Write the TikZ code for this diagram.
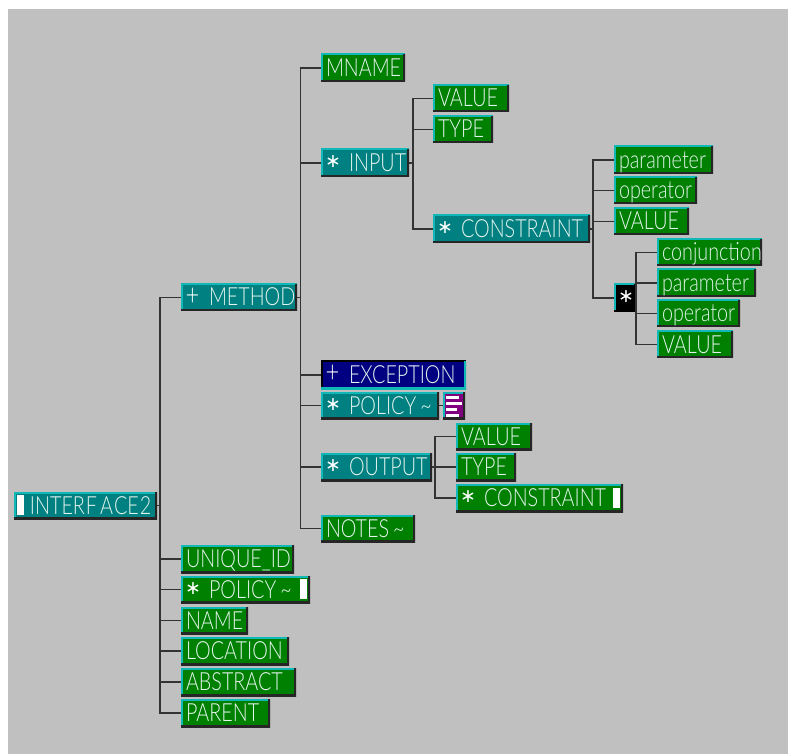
\documentclass[tikz,border=0pt]{standalone}
\usepackage{fontspec}
\setmainfont{Lato}[UprightFont=* Light,FakeStretch=0.79]
\newfontfamily\symf{DejaVu Sans}
\definecolor{tealb}{HTML}{008080}
\definecolor{greenb}{HTML}{008000}
\definecolor{navyb}{HTML}{000080}
\definecolor{purpb}{HTML}{800080}
\definecolor{edgec}{HTML}{10B8B8}
\definecolor{inkc}{HTML}{E4F4EE}
\definecolor{panel}{HTML}{C0C0C0}
\newlength{\boxw}
\newcommand{\nd}[7]{%
  \pgfmathsetlength{\boxw}{(#4-#3)*1pt}%
  \node[#2,minimum height={(#6-#5)*1pt}] (#1) at ({(#3+#4)/2},{(#5+#6)/2})
   {\makebox[\boxw][l]{#7}};}
\newcommand{\tx}[1]{\hspace{5pt}#1}
\newcommand{\astr}{\hspace{-0.5pt}\raisebox{4pt}{\textcolor{white}{\symf\fontsize{19}{19}\selectfont ∗}}}
\newcommand{\plussym}{\raisebox{0.5pt}{\textcolor{white}{\fontsize{30}{30}\selectfont +}}}
\newcommand{\sy}[2]{\hspace{4.5pt}\makebox[23.5pt][l]{#1}#2}
\newcommand{\barr}{\textcolor{white}{\rule[-1pt]{6.5pt}{20pt}}}
\newcommand{\tld}{\hspace{4pt}\textasciitilde}
\tikzset{
 base/.style={inner sep=0pt,outer sep=0pt,text=inkc,text height=17pt,text depth=0pt,
   font=\fontsize{25}{25}\selectfont},
 bevel/.style n args={3}{base,fill=#1,
   path picture={
     \draw[line width=3pt,#2] (path picture bounding box.south west) -- (path picture bounding box.north west) -- (path picture bounding box.north east);
     \draw[line width=3.4pt,#3] (path picture bounding box.south west) -- (path picture bounding box.south east) -- (path picture bounding box.north east);
   }},
 tl/.style={bevel={tealb}{edgec}{black!85}},
 gr/.style={bevel={greenb}{edgec}{black!85}},
 bk/.style={bevel={black}{edgec}{black}},
 pp/.style={bevel={purpb}{edgec}{black!85}},
 nv/.style={bevel={navyb}{black}{edgec}},
 connector/.style={draw=black!80,line width=1.2pt},
}
\begin{document}
\begin{tikzpicture}[x=1pt,y=-1pt]
\useasboundingbox (0,0) rectangle (788,754);
\fill[white] (0,0) rectangle (788,754);
\fill[panel] (8,9) rectangle (788,754);
\nd{root}{tl}{14}{157}{492}{519}{\hspace{3pt}\barr\hspace{6.5pt}INTER\hspace{1pt}F\hspace{3pt}A\hspace{1pt}CE\hspace{1pt}2}
\nd{method}{tl}{181}{297}{284}{311}{\sy{\plussym}{METHOD}}
\nd{mname}{gr}{321}{405}{54}{82}{\tx{MNAME}}
\nd{input}{tl}{321}{409}{149}{177}{\sy{\astr}{INPUT}}
\nd{ival}{gr}{433}{509}{85}{112}{\tx{VALUE}}
\nd{ityp}{gr}{433}{493}{116}{143}{\tx{TYPE}}
\nd{icon}{tl}{433}{590}{215}{243}{\sy{\astr}{CONSTRAINT}}
\nd{cpar}{gr}{614}{713}{146}{174}{\tx{parameter}}
\nd{cop}{gr}{614}{697}{177}{204}{\tx{operator}}
\nd{cval}{gr}{614}{689}{208}{235}{\tx{VALUE}}
\nd{star}{bk}{614}{636}{284}{312}{\sy{\astr}{}}
\nd{sconj}{gr}{657}{762}{239}{266}{\tx{conjunction}}
\nd{spar}{gr}{657}{756}{269}{297}{\tx{parameter}}
\nd{sop}{gr}{657}{740}{300}{327}{\tx{operator}}
\nd{sval}{gr}{657}{733}{331}{358}{\tx{VALUE}}
\nd{exc}{nv}{321}{466}{361}{389}{\sy{\plussym}{EXCEPTION}}
\nd{pol}{tl}{321}{439}{392}{419}{\sy{\astr}{POLICY\tld}}
\nd{icon2}{pp}{443}{465}{392}{419}{}
\nd{output}{tl}{321}{432}{453}{481}{\sy{\astr}{OUTPUT}}
\nd{oval}{gr}{456}{532}{423}{450}{\tx{VALUE}}
\nd{otyp}{gr}{456}{516}{453}{481}{\tx{TYPE}}
\nd{ocon}{gr}{456}{623}{484}{512}{\rlap{\hspace{157pt}\barr}\sy{\astr}{CONSTRAINT}}
\nd{notes}{gr}{321}{415}{515}{542}{\tx{NOTES\tld}}
\nd{uid}{gr}{181}{294}{545}{573}{\tx{UNIQUE\_ID}}
\nd{rpol}{gr}{181}{310}{576}{603}{\rlap{\hspace{119pt}\barr}\sy{\astr}{POLICY\tld}}
\nd{name}{gr}{181}{248}{607}{634}{\tx{NAME}}
\nd{loc}{gr}{181}{289}{637}{665}{\tx{LOCATION}}
\nd{abs}{gr}{181}{296}{668}{696}{\tx{ABSTRACT}}
\nd{par}{gr}{181}{270}{699}{727}{\tx{PARENT}}
\foreach \yy/\xb in {396/459,402/462,408/457,414/459}
  \fill[white] (446,\yy) rectangle (\xb,\yy+3);
% bus coordinates: level with each parent, at the x of its vertical trunk
\coordinate (x0) at (160,0);
\coordinate (x1) at (300.5,0);
\coordinate (x2) at (413,0);
\coordinate (x3) at (593,0);
\coordinate (x4) at (636,0);
\coordinate (x5) at (435,0);
\coordinate (b0) at (root.east -| x0);
\coordinate (b1) at (method.east -| x1);
\coordinate (b2) at (input.east -| x2);
\coordinate (b3) at (icon.east -| x3);
\coordinate (b4) at (star.east -| x4);
\coordinate (b5) at (output.east -| x5);
\draw[connector] (root.east) -- (b0);
\foreach \c in {method,uid,rpol,name,loc,abs,par} \draw[connector] (\c.west) -| (b0);
\draw[connector] (method.east) -- (b1);
\foreach \c in {mname,input,exc,pol,output,notes} \draw[connector] (\c.west) -| (b1);
\draw[connector] (input.east) -- (b2);
\foreach \c in {ival,ityp,icon} \draw[connector] (\c.west) -| (b2);
\draw[connector] (icon.east) -- (b3);
\foreach \c in {cpar,cop,cval,star} \draw[connector] (\c.west) -| (b3);
\foreach \c in {sconj,spar,sop,sval} \draw[connector] (\c.west) -| (b4);
\draw[connector] (output.east) -- (b5);
\foreach \c in {oval,otyp,ocon} \draw[connector] (\c.west) -| (b5);
\draw[connector] (pol.east) -- (icon2.west);
\end{tikzpicture}
\end{document}
